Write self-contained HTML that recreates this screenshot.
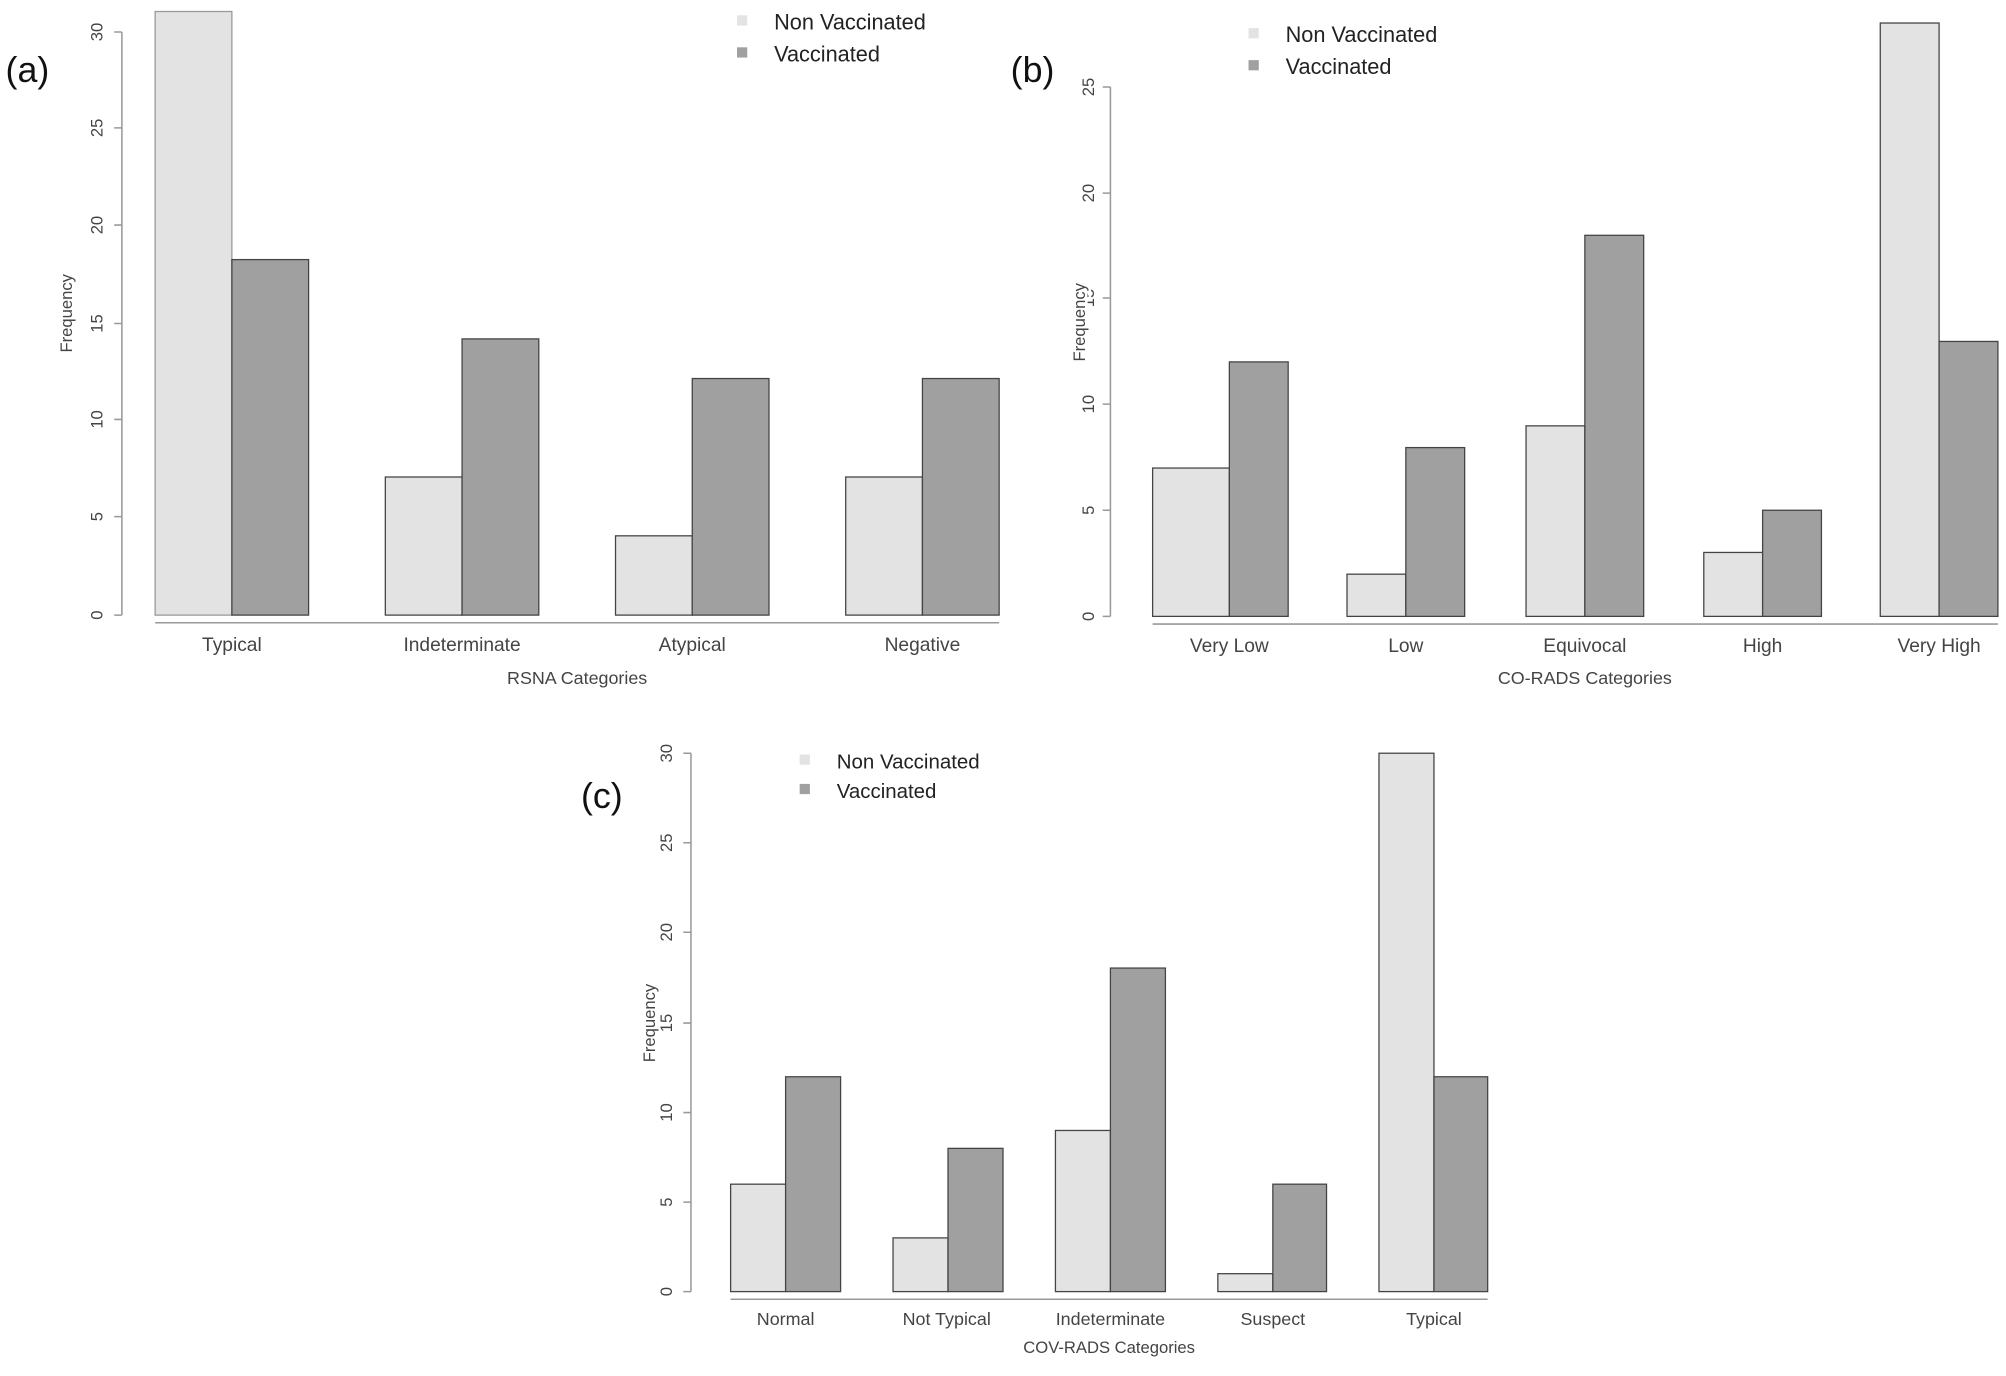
<!DOCTYPE html>
<html><head><meta charset="utf-8"><style>html,body{margin:0;padding:0;background:#fff}svg{display:block}</style></head>
<body>
<svg width="2006" height="1376" viewBox="0 0 1568 1076" xmlns="http://www.w3.org/2000/svg" font-family="Liberation Sans, sans-serif">
<rect width="1568" height="1076" fill="#fff"/>
<g stroke="#444" stroke-width="1">
<rect x="121" y="9" width="60" height="472" fill="#e3e3e3" stroke="#999"/>
<rect x="181" y="203" width="60" height="278" fill="#a0a0a0"/>
<rect x="301" y="373" width="60" height="108" fill="#e3e3e3"/>
<rect x="361" y="265" width="60" height="216" fill="#a0a0a0"/>
<rect x="481" y="419" width="60" height="62" fill="#e3e3e3"/>
<rect x="541" y="296" width="60" height="185" fill="#a0a0a0"/>
<rect x="661" y="373" width="60" height="108" fill="#e3e3e3"/>
<rect x="721" y="296" width="60" height="185" fill="#a0a0a0"/>
<rect x="901" y="366" width="60" height="116" fill="#e3e3e3"/>
<rect x="961" y="283" width="46" height="199" fill="#a0a0a0"/>
<rect x="1053" y="449" width="46" height="33" fill="#e3e3e3"/>
<rect x="1099" y="350" width="46" height="132" fill="#a0a0a0"/>
<rect x="1193" y="333" width="46" height="149" fill="#e3e3e3"/>
<rect x="1239" y="184" width="46" height="298" fill="#a0a0a0"/>
<rect x="1332" y="432" width="46" height="50" fill="#e3e3e3"/>
<rect x="1378" y="399" width="46" height="83" fill="#a0a0a0"/>
<rect x="1470" y="18" width="46" height="464" fill="#e3e3e3"/>
<rect x="1516" y="267" width="46" height="215" fill="#a0a0a0"/>
<rect x="571" y="926" width="43" height="84" fill="#e3e3e3"/>
<rect x="614" y="842" width="43" height="168" fill="#a0a0a0"/>
<rect x="698" y="968" width="43" height="42" fill="#e3e3e3"/>
<rect x="741" y="898" width="43" height="112" fill="#a0a0a0"/>
<rect x="825" y="884" width="43" height="126" fill="#e3e3e3"/>
<rect x="868" y="757" width="43" height="253" fill="#a0a0a0"/>
<rect x="952" y="996" width="43" height="14" fill="#e3e3e3"/>
<rect x="995" y="926" width="42" height="84" fill="#a0a0a0"/>
<rect x="1078" y="589" width="43" height="421" fill="#e3e3e3"/>
<rect x="1121" y="842" width="42" height="168" fill="#a0a0a0"/>
</g>
<g stroke="#999" stroke-width="1.2" fill="none">
<path d="M95 25V481M89 481H95M89 404H95M89 328H95M89 253H95M89 176H95M89 100H95M89 25H95"/>
<path d="M121 487H781"/>
<path d="M868 68V482M862 482H868M862 399H868M862 316H868M862 233H868M862 151H868M862 68H868"/>
<path d="M901 488H1562"/>
<path d="M540 589V1010M534 1010H540M534 940H540M534 870H540M534 800H540M534 729H540M534 659H540M534 589H540"/>
<path d="M571 1016H1163"/>
</g>
<g font-size="13" fill="#444" text-anchor="middle">
<text transform="translate(80,481) rotate(-90)">0</text>
<text transform="translate(80,404) rotate(-90)">5</text>
<text transform="translate(80,328) rotate(-90)">10</text>
<text transform="translate(80,253) rotate(-90)">15</text>
<text transform="translate(80,176) rotate(-90)">20</text>
<text transform="translate(80,100) rotate(-90)">25</text>
<text transform="translate(80,25) rotate(-90)">30</text>
<text transform="translate(855,482) rotate(-90)">0</text>
<text transform="translate(855,399) rotate(-90)">5</text>
<text transform="translate(855,316) rotate(-90)">10</text>
<text transform="translate(855,233) rotate(-90)">15</text>
<text transform="translate(855,151) rotate(-90)">20</text>
<text transform="translate(855,68) rotate(-90)">25</text>
<text transform="translate(525,1010) rotate(-90)">0</text>
<text transform="translate(525,940) rotate(-90)">5</text>
<text transform="translate(525,870) rotate(-90)">10</text>
<text transform="translate(525,800) rotate(-90)">15</text>
<text transform="translate(525,729) rotate(-90)">20</text>
<text transform="translate(525,659) rotate(-90)">25</text>
<text transform="translate(525,589) rotate(-90)">30</text>
<text transform="translate(56,245) rotate(-90)">Frequency</text>
<text transform="translate(848,252) rotate(-90)" fill="#fff" stroke="#fff" stroke-width="4">Frequency</text>
<text transform="translate(848,252) rotate(-90)">Frequency</text>
<text transform="translate(512,800) rotate(-90)">Frequency</text>
</g>
<g font-size="15" fill="#444" text-anchor="middle">
<text x="181" y="509">Typical</text><text x="361" y="509">Indeterminate</text><text x="541" y="509">Atypical</text><text x="721" y="509">Negative</text>
<text x="451" y="535" font-size="14">RSNA Categories</text>
<text x="961" y="510">Very Low</text><text x="1099" y="510">Low</text><text x="1239" y="510">Equivocal</text><text x="1378" y="510">High</text><text x="1516" y="510">Very High</text>
<text x="1239" y="535" font-size="14">CO-RADS Categories</text>
<text x="614" y="1036" font-size="14">Normal</text><text x="740" y="1036" font-size="14">Not Typical</text><text x="868" y="1036" font-size="14">Indeterminate</text><text x="995" y="1036" font-size="14">Suspect</text><text x="1121" y="1036" font-size="14">Typical</text>
<text x="867" y="1058" font-size="13">COV-RADS Categories</text>
</g>
<g font-size="17" fill="#222">
<rect x="576" y="12" width="8" height="8" fill="#e3e3e3"/><text x="605" y="23">Non Vaccinated</text>
<rect x="576" y="37" width="8" height="8" fill="#a0a0a0"/><text x="605" y="48">Vaccinated</text>
<rect x="976" y="22" width="8" height="8" fill="#e3e3e3"/><text x="1005" y="33">Non Vaccinated</text>
<rect x="976" y="47" width="8" height="8" fill="#a0a0a0"/><text x="1005" y="58">Vaccinated</text>
<rect x="625" y="590" width="8" height="8" fill="#e3e3e3"/><text x="654" y="601" font-size="16">Non Vaccinated</text>
<rect x="625" y="613" width="8" height="8" fill="#a0a0a0"/><text x="654" y="624" font-size="16">Vaccinated</text>
</g>
<g font-size="28" fill="#111">
<text x="4" y="64">(a)</text>
<text x="790" y="64">(b)</text>
<text x="454" y="632">(c)</text>
</g>
</svg>
</body></html>
